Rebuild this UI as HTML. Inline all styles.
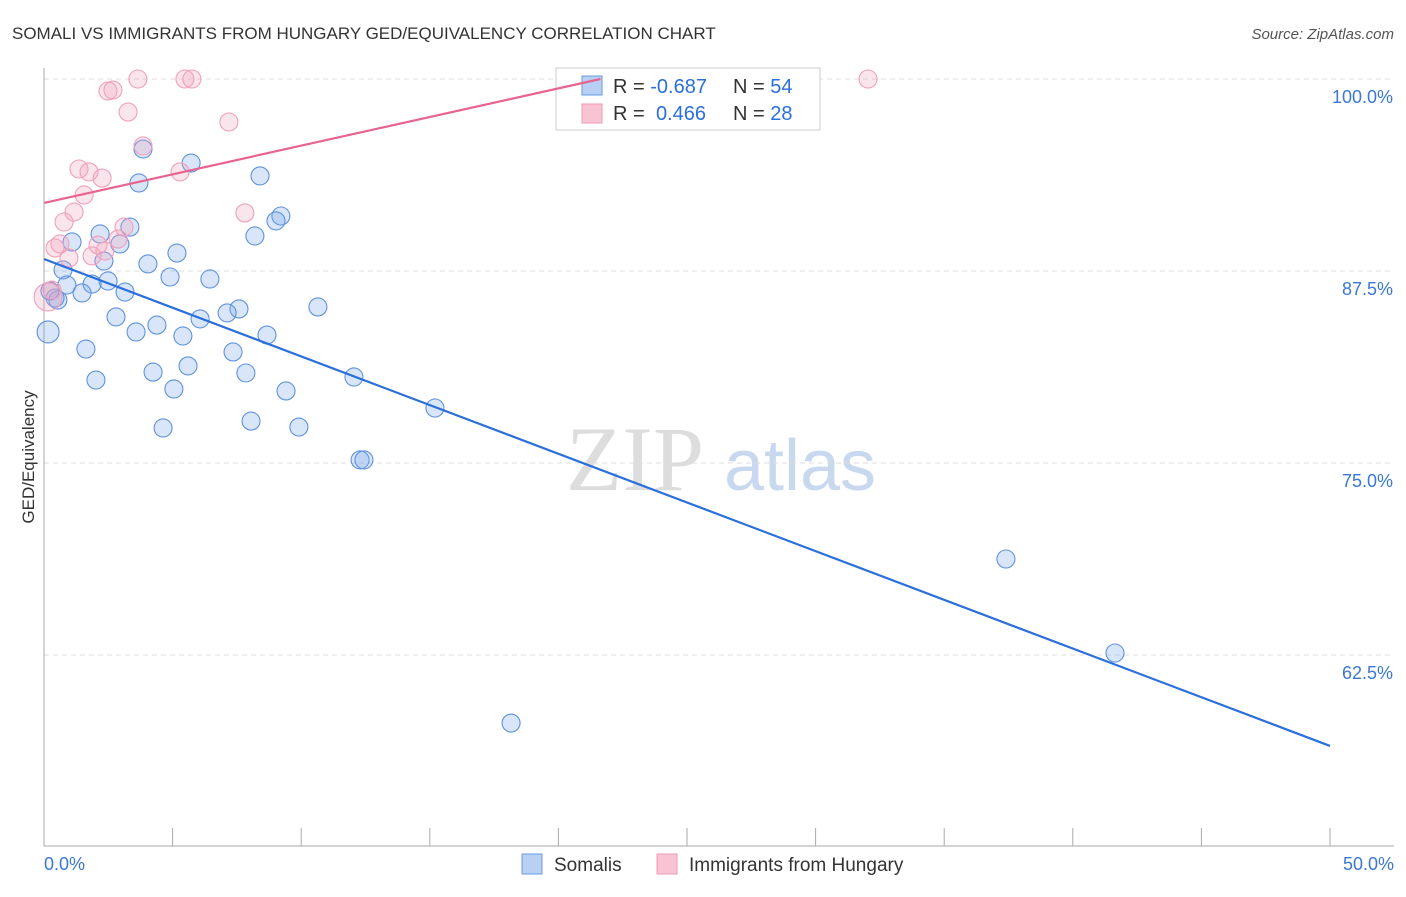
<!DOCTYPE html>
<html><head><meta charset="utf-8"><style>
body{margin:0;background:#fff;font-family:"Liberation Sans",sans-serif}
</style></head><body>
<svg id="chart" width="1406" height="892" xmlns="http://www.w3.org/2000/svg" font-family="Liberation Sans, sans-serif">
<text x="12" y="39" font-size="17" fill="#333">SOMALI VS IMMIGRANTS FROM HUNGARY GED/EQUIVALENCY CORRELATION CHART</text>
<text x="1394" y="39" font-size="15" fill="#555" font-style="italic" text-anchor="end">Source: ZipAtlas.com</text>
<text transform="translate(34,457) rotate(-90)" font-size="17" fill="#333" text-anchor="middle">GED/Equivalency</text>
<g><text x="635" y="490" font-size="92" fill="#ddd" font-family="Liberation Serif, serif" text-anchor="middle">ZIP</text><text x="800" y="490" font-size="72" fill="#c8d8ee" text-anchor="middle">atlas</text></g>
<g id="grid"></g><g id="axes"></g>
<g>
<rect x="556" y="68" width="264" height="62" fill="#fff" stroke="#ccc"/>
<rect x="582" y="76" width="20" height="19" fill="#b8d0f4" stroke="#6a9ae0"/>
<rect x="582" y="104" width="20" height="19" fill="#f8c4d4" stroke="#ee9ab6"/>
<text x="613" y="93" font-size="20" fill="#333">R = <tspan fill="#2a6fdb">-0.687</tspan><tspan x="733">N = </tspan><tspan fill="#2a6fdb">54</tspan></text>
<text x="613" y="120" font-size="20" fill="#333">R = <tspan fill="#2a6fdb" x="656">0.466</tspan><tspan x="733">N = </tspan><tspan fill="#2a6fdb">28</tspan></text>
</g>
<g id="marks"></g>
<g>
<rect x="522" y="854" width="20" height="20" fill="#b8d0f4" stroke="#6a9ae0"/>
<text x="554" y="871" font-size="19" fill="#333">Somalis</text>
<rect x="657" y="854" width="20" height="20" fill="#f8c4d4" stroke="#ee9ab6"/>
<text x="689" y="871" font-size="19" fill="#333">Immigrants from Hungary</text>
</g>
</svg>
<script>
const blueX=[3.85,5.72,3.69,8.40,9.21,9.02,3.34,8.20,2.18,1.09,2.95,5.17,2.33,4.04,0.74,4.90,6.45,2.49,0.89,1.87,1.48,3.15,0.54,10.65,7.58,7.12,6.07,2.80,4.39,3.58,5.40,8.67,0.16,1.63,7.35,5.60,4.24,7.85,12.05,2.02,5.05,9.41,15.20,8.05,4.63,9.91,12.29,12.44,37.40,41.64,18.16,0.43,0.23];
const blueY=[95.44,94.53,93.23,93.69,91.08,90.76,90.36,89.78,89.91,89.39,89.26,88.67,88.15,87.96,87.57,87.11,86.98,86.85,86.59,86.65,86.07,86.13,85.61,85.16,85.03,84.77,84.38,84.51,83.98,83.53,83.27,83.33,83.53,82.42,82.23,81.32,80.92,80.86,80.60,80.40,79.82,79.69,78.58,77.73,77.28,77.34,75.20,75.20,68.75,62.63,58.07,85.74,86.20];
const pinkX=[3.65,5.48,5.75,32.04,2.49,2.68,3.27,7.19,3.85,5.29,1.36,1.75,2.26,1.56,1.17,0.78,7.81,3.11,0.43,0.62,0.97,1.87,2.10,2.88,2.37,0.16,0.31];
const pinkY=[100,100,100,100,99.22,99.28,97.85,97.20,95.64,93.95,94.14,93.95,93.55,92.45,91.34,90.69,91.28,90.36,89.00,89.26,88.35,88.48,89.19,89.58,88.80,85.81,86.26];
const blueTrend=[88.28,56.58];
const pinkTrend=[91.93,0.373];
const yTicks=[100,87.5,75,62.5];
const yTickLabels=["100.0%","87.5%","75.0%","62.5%"];
const xTicks=[0,5,10,15,20,25,30,35,40,45,50];
const xLabels=["0.0%","50.0%"];
const sx=v=>44+v*25.72, sy=v=>79+(100-v)*15.36;
const NS="http://www.w3.org/2000/svg";
function mk(p,t,a){const e=document.createElementNS(NS,t);for(const k in a)e.setAttribute(k,a[k]);p.appendChild(e);return e;}
const grid=document.getElementById('grid'),axes=document.getElementById('axes'),marks=document.getElementById('marks');
yTicks.forEach((v,i)=>{
 const l=mk(grid,'line',{x1:44,x2:1394,y1:sy(v),y2:sy(v),stroke:'#ddd','stroke-dasharray':'5,4'});
 
 
 const t=mk(axes,'text',{x:1393,y:sy(v)+24,'font-size':18,fill:'#3a78d4','text-anchor':'end'});t.textContent=yTickLabels[i];
 
 
});
const ax=mk(axes,'line',{x1:44,x2:44,y1:68,y2:846,stroke:'#aaa'});


const bx=mk(axes,'line',{x1:44,x2:1394,y1:846,y2:846,stroke:'#aaa'});


xTicks.forEach(v=>{const t=mk(axes,'line',{x1:sx(v),x2:sx(v),y1:828,y2:846,stroke:'#aaa'});
 
 });
[[0,'start',44],[50,'end',1394]].forEach((d,i)=>{const t=mk(axes,'text',{x:d[2],y:870,'font-size':18,fill:'#3a78d4','text-anchor':d[1]});t.textContent=xLabels[i];
 
 });
blueX.forEach((x,i)=>{const c=mk(marks,'circle',{cx:sx(x),cy:sy(blueY[i]),r:(i===32?11:9),fill:'rgba(120,165,235,0.28)',stroke:'#5e92e0','stroke-width':1.1});
 
 });
pinkX.forEach((x,i)=>{const c=mk(marks,'circle',{cx:sx(x),cy:sy(pinkY[i]),r:(i===25?14:9),fill:'rgba(242,160,188,0.28)',stroke:'#f0a0bb','stroke-width':1.1});
 
 });
const bl=mk(marks,'line',{x1:sx(0),y1:sy(blueTrend[0]),x2:sx(50),y2:sy(blueTrend[1]),stroke:'#2a6fdb','stroke-width':2.2});


const pe=(100-pinkTrend[0])/pinkTrend[1];
const pl=mk(marks,'line',{x1:sx(0),y1:sy(pinkTrend[0]),x2:sx(pe),y2:sy(100),stroke:'#e8648f','stroke-width':2.2});


</script>
</body></html>
